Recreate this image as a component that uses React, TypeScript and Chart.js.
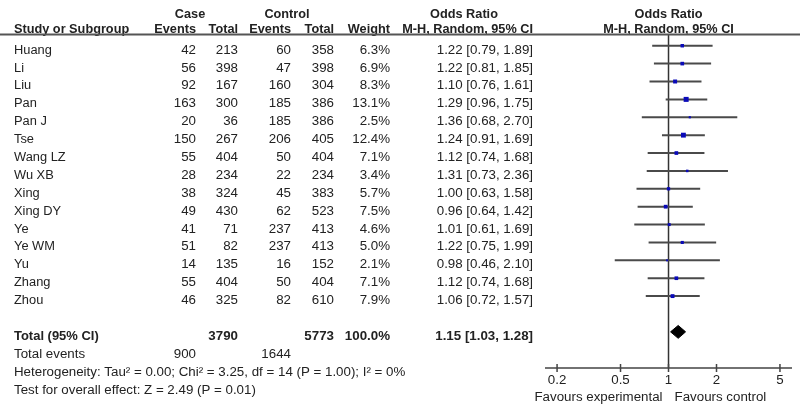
import React, { useEffect, useRef } from "react";
import { Chart, registerables } from "chart.js";

Chart.register(...registerables);

// ---------- data ----------
const studies = ["Huang", "Li", "Liu", "Pan", "Pan J", "Tse", "Wang LZ", "Wu XB", "Xing", "Xing DY", "Ye", "Ye WM", "Yu", "Zhang", "Zhou"];
const caseEvents = [42, 56, 92, 163, 20, 150, 55, 28, 38, 49, 41, 51, 14, 55, 46];
const caseTotals = [213, 398, 167, 300, 36, 267, 404, 234, 324, 430, 71, 82, 135, 404, 325];
const controlEvents = [60, 47, 160, 185, 185, 206, 50, 22, 45, 62, 237, 237, 16, 50, 82];
const controlTotals = [358, 398, 304, 386, 386, 405, 404, 234, 383, 523, 413, 413, 152, 404, 610];
const weights = [6.3, 6.9, 8.3, 13.1, 2.5, 12.4, 7.1, 3.4, 5.7, 7.5, 4.6, 5.0, 2.1, 7.1, 7.9];
const oddsRatios = [1.22, 1.22, 1.10, 1.29, 1.36, 1.24, 1.12, 1.31, 1.00, 0.96, 1.01, 1.22, 0.98, 1.12, 1.06];
const ciLower = [0.79, 0.81, 0.76, 0.96, 0.68, 0.91, 0.74, 0.73, 0.63, 0.64, 0.61, 0.75, 0.46, 0.74, 0.72];
const ciUpper = [1.89, 1.85, 1.61, 1.75, 2.70, 1.69, 1.68, 2.36, 1.58, 1.42, 1.69, 1.99, 2.10, 1.68, 1.57];

const totalCaseN = 3790;
const totalControlN = 5773;
const totalWeight = 100.0;
const totalCaseEvents = 900;
const totalControlEvents = 1644;
const pooled = [1.15, 1.03, 1.28]; // OR, lower, upper

const axisTicks = [0.2, 0.5, 1, 2, 5];
const axisRange = [0.168, 5.95];

const heterogeneityText = "Heterogeneity: Tau\u00B2 = 0.00; Chi\u00B2 = 3.25, df = 14 (P = 1.00); I\u00B2 = 0%";
const overallEffectText = "Test for overall effect: Z = 2.49 (P = 0.01)";
const favoursLeft = "Favours experimental";
const favoursRight = "Favours control";

// ---------- style ----------
const FONT = '"Liberation Sans", Arial, sans-serif';
const SX_BOLD = 1.06;
const SX_REG = 1.11;
const TEXT = "#222";
const TOTAL_ROW = studies.length + 1;

function txt(ctx: CanvasRenderingContext2D, s: string, x: number, y: number, align: CanvasTextAlign, bold = false, sx?: number) {
  ctx.save();
  ctx.font = `${bold ? "bold " : ""}12px ${FONT}`;
  ctx.textAlign = align;
  ctx.textBaseline = "alphabetic";
  ctx.fillStyle = TEXT;
  ctx.translate(x, y);
  ctx.scale(sx ?? (bold ? SX_BOLD : SX_REG), 1);
  ctx.fillText(s, 0, 0);
  ctx.restore();
}

const fmtOR = (o: number, l: number, u: number) => `${o.toFixed(2)} [${l.toFixed(2)}, ${u.toFixed(2)}]`;

const forestPlugin = {
  id: "forestPlugin",
  beforeDatasetsDraw(chart: any) {
    const { ctx, chartArea, scales } = chart;
    const x1 = scales.x.getPixelForValue(1);
    ctx.save();
    ctx.strokeStyle = "#333";
    ctx.lineWidth = 1.5;
    ctx.beginPath();
    ctx.moveTo(x1, chartArea.top);
    ctx.lineTo(x1, chartArea.bottom);
    ctx.stroke();
    ctx.restore();
  },
  afterDraw(chart: any) {
    const { ctx, chartArea, scales } = chart;
    const xs = scales.x;
    const ys = scales.y;
    const x1 = xs.getPixelForValue(1);

    // axis
    ctx.save();
    ctx.strokeStyle = "#444";
    ctx.lineWidth = 1.5;
    ctx.beginPath();
    ctx.moveTo(chartArea.left, chartArea.bottom);
    ctx.lineTo(chartArea.right, chartArea.bottom);
    axisTicks.forEach((t) => {
      const px = xs.getPixelForValue(t);
      ctx.moveTo(px, chartArea.bottom - 4);
      ctx.lineTo(px, chartArea.bottom + 4);
    });
    ctx.stroke();
    ctx.restore();
    axisTicks.forEach((t) => txt(ctx, String(t), xs.getPixelForValue(t), chartArea.bottom + 16, "center"));
    txt(ctx, favoursLeft, x1 - 6, chartArea.bottom + 33, "right");
    txt(ctx, favoursRight, x1 + 6, chartArea.bottom + 33, "left");

    // headers
    txt(ctx, "Case", 190, 17.5, "center", true);
    txt(ctx, "Control", 287, 17.5, "center", true);
    txt(ctx, "Odds Ratio", 464, 17.5, "center", true);
    txt(ctx, "Odds Ratio", x1, 17.5, "center", true);
    txt(ctx, "Study or Subgroup", 14, 33, "left", true);
    txt(ctx, "Events", 196, 33, "right", true);
    txt(ctx, "Total", 238, 33, "right", true);
    txt(ctx, "Events", 291, 33, "right", true);
    txt(ctx, "Total", 334, 33, "right", true);
    txt(ctx, "Weight", 390, 33, "right", true);
    txt(ctx, "M-H, Random, 95% CI", 533, 33, "right", true);
    txt(ctx, "M-H, Random, 95% CI", x1, 33, "center", true);

    ctx.save();
    ctx.strokeStyle = "#555";
    ctx.lineWidth = 2;
    ctx.beginPath();
    ctx.moveTo(0, 34.5);
    ctx.lineTo(800, 34.5);
    ctx.stroke();
    ctx.restore();

    // study rows
    studies.forEach((name, i) => {
      const y = ys.getPixelForValue(i) + 8;
      txt(ctx, name, 14, y, "left", false, 1.07);
      txt(ctx, String(caseEvents[i]), 196, y, "right");
      txt(ctx, String(caseTotals[i]), 238, y, "right");
      txt(ctx, String(controlEvents[i]), 291, y, "right");
      txt(ctx, String(controlTotals[i]), 334, y, "right");
      txt(ctx, `${weights[i].toFixed(1)}%`, 390, y, "right");
      txt(ctx, fmtOR(oddsRatios[i], ciLower[i], ciUpper[i]), 533, y, "right");
    });

    // totals
    const yt = ys.getPixelForValue(TOTAL_ROW) + 8;
    txt(ctx, "Total (95% CI)", 14, yt, "left", true, 1.08);
    txt(ctx, String(totalCaseN), 238, yt, "right", true, SX_REG);
    txt(ctx, String(totalControlN), 334, yt, "right", true, SX_REG);
    txt(ctx, `${totalWeight.toFixed(1)}%`, 390, yt, "right", true, SX_REG);
    txt(ctx, fmtOR(pooled[0], pooled[1], pooled[2]), 533, yt, "right", true, SX_REG);

    const ye = ys.getPixelForValue(TOTAL_ROW + 1) + 8;
    txt(ctx, "Total events", 14, ye, "left");
    txt(ctx, String(totalCaseEvents), 196, ye, "right");
    txt(ctx, String(totalControlEvents), 291, ye, "right");
    txt(ctx, heterogeneityText, 14, ys.getPixelForValue(TOTAL_ROW + 2) + 8, "left");
    txt(ctx, overallEffectText, 14, ys.getPixelForValue(TOTAL_ROW + 3) + 8, "left");
  },
};

export default function App() {
  const ref = useRef<HTMLCanvasElement | null>(null);

  useEffect(() => {
    if (!ref.current) return;
    const ciSets = studies.map((s, i) => ({
      label: s + " CI",
      data: [
        { x: ciLower[i], y: i },
        { x: ciUpper[i], y: i },
      ],
      borderColor: "#4a4a4a",
      borderWidth: 2,
      pointRadius: 0,
      fill: false,
      order: 2,
    }));
    const halfH = 0.36;
    const chart = new Chart(ref.current, {
      type: "line",
      data: {
        datasets: [
          {
            label: "Studies",
            data: studies.map((_, i) => ({ x: oddsRatios[i], y: i })),
            showLine: false,
            pointStyle: "rect",
            pointRadius: weights.map((w) => 0.976 * Math.sqrt(w)),
            pointBackgroundColor: "#0a0ab8",
            pointBorderWidth: 0,
            order: 0,
          } as any,
          ...ciSets,
          {
            label: "Pooled upper",
            data: [
              { x: pooled[1], y: TOTAL_ROW },
              { x: pooled[0], y: TOTAL_ROW - halfH },
              { x: pooled[2], y: TOTAL_ROW },
            ],
            borderColor: "#000",
            borderWidth: 1,
            pointRadius: 0,
            fill: false,
            order: 1,
          },
          {
            label: "Pooled lower",
            data: [
              { x: pooled[1], y: TOTAL_ROW },
              { x: pooled[0], y: TOTAL_ROW + halfH },
              { x: pooled[2], y: TOTAL_ROW },
            ],
            borderColor: "#000",
            backgroundColor: "#000",
            borderWidth: 1,
            pointRadius: 0,
            fill: "-1",
            order: 1,
          },
        ],
      },
      options: {
        animation: false,
        responsive: false,
        events: [],
        layout: { padding: { left: 545, right: 8, top: 35, bottom: 42 } },
        plugins: { legend: { display: false }, tooltip: { enabled: false } },
        scales: {
          x: { type: "logarithmic", min: axisRange[0], max: axisRange[1], bounds: "data", display: false },
          y: { type: "linear", min: -0.6, max: 18.02, reverse: true, display: false },
        },
      },
      plugins: [forestPlugin],
    } as any);
    return () => chart.destroy();
  }, []);

  return (
    <div style={{ position: "absolute", left: 0, top: 0, width: 800, height: 410, background: "#fff" }}>
      <canvas ref={ref} width={800} height={410} />
    </div>
  );
}
